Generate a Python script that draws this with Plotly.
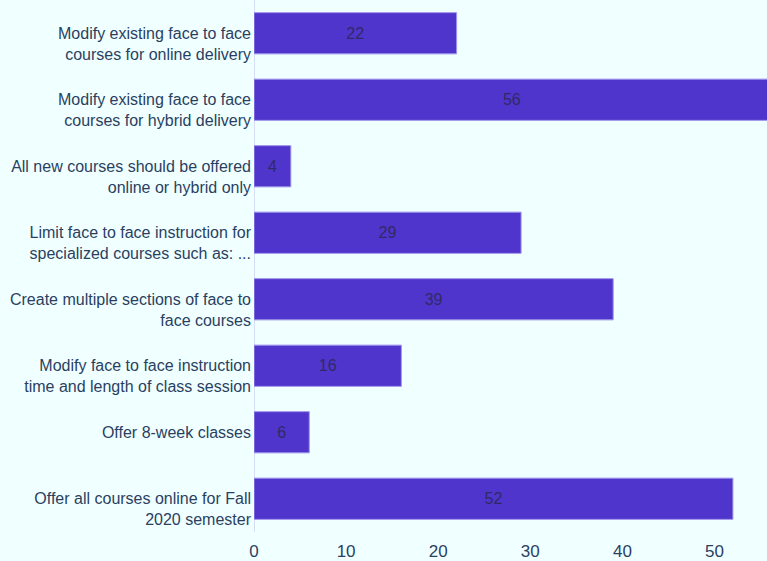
import plotly.graph_objects as go

categories = [
    "Modify existing face to face<br>courses for online delivery",
    "Modify existing face to face<br>courses for hybrid delivery",
    "All new courses should be offered<br>online or hybrid only",
    "Limit face to face instruction for<br>specialized courses such as: ...",
    "Create multiple sections of face to<br>face courses",
    "Modify face to face instruction<br>time and length of class session",
    "Offer 8-week classes",
    "Offer all courses online for Fall<br>2020 semester",
]
values = [22, 56, 4, 29, 39, 16, 6, 52]
tick_vals = [0, 10, 20, 30, 40, 50]

FONT = "Liberation Sans, Arial"

# In the reference, the first line of a wrapped label sits level with its bar
tick_text = [("<br>" + c) if "<br>" in c else c for c in categories]

fig = go.Figure(
    go.Bar(
        x=values,
        y=categories,
        orientation="h",
        text=values,
        textposition="inside",
        insidetextanchor="middle",
        textfont=dict(color="#2f2a66", size=16, family=FONT),
        marker=dict(color="#5035CC", line=dict(color="#9f95ea", width=1)),
        hoverinfo="x+y",
    )
)

fig.update_layout(
    width=767,
    height=561,
    margin=dict(l=254, r=0, t=0, b=29),
    paper_bgcolor="#F0FFFF",
    plot_bgcolor="#F0FFFF",
    bargap=0.38,
    font=dict(family=FONT, size=16, color="#2a3f5f"),
    showlegend=False,
)
fig.update_xaxes(
    range=[0, 55.7],
    tickvals=tick_vals,
    showgrid=False,
    zeroline=True,
    zerolinecolor="#d6def5",
    zerolinewidth=1,
    automargin=False,
    ticklabelstandoff=7,
    tickfont=dict(size=17, color="#2a3f5f"),
)
fig.update_yaxes(
    autorange="reversed",
    tickmode="array",
    tickvals=categories,
    ticktext=tick_text,
    showgrid=False,
    automargin=False,
    ticklabelstandoff=2,
    tickfont=dict(size=16, color="#2a3f5f"),
)

fig.write_html(
    "out.html",
    config={"displayModeBar": False},
    post_script="document.body.style.margin='0';document.body.style.background='#F0FFFF';",
)
